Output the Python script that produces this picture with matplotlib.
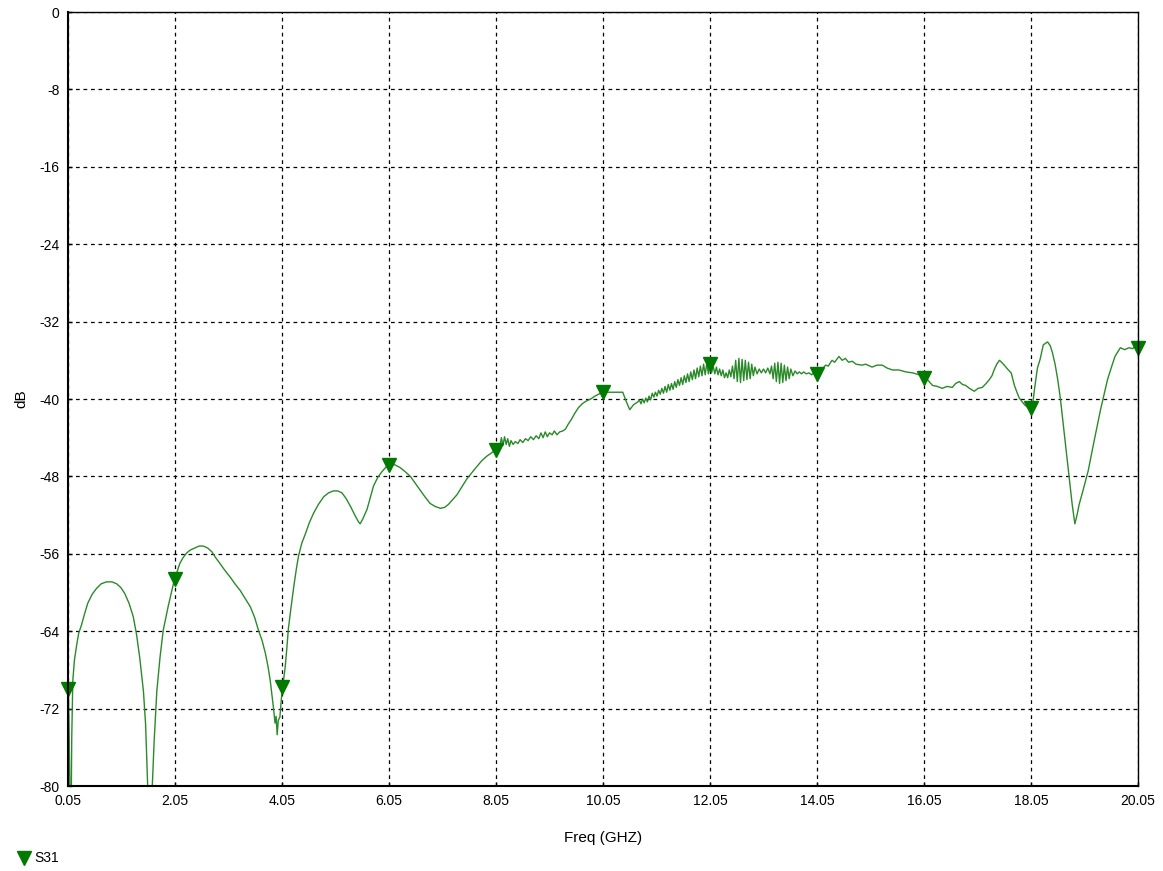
import matplotlib
matplotlib.use("Agg")
import matplotlib.pyplot as plt
from matplotlib.lines import Line2D

plt.rcParams['font.family'] = ['Liberation Sans Narrow', 'Liberation Sans', 'DejaVu Sans']

# S31 trace (GHz, dB)
freq = [
    0.05, 0.06, 0.07, 0.08, 0.09, 0.11, 0.12, 0.14, 0.17, 0.21, 0.25, 0.30, 0.36, 0.42, 0.50,
    0.58, 0.67, 0.77, 0.87, 0.96, 1.04, 1.11, 1.19, 1.27, 1.33, 1.39, 1.46, 1.50, 1.54, 1.56,
    1.61, 1.625, 1.66, 1.71, 1.77, 1.83, 1.92, 2.02, 2.08, 2.14, 2.20, 2.27, 2.34, 2.42, 2.50,
    2.58, 2.66, 2.74, 2.81, 2.89, 2.98, 3.08, 3.17, 3.27, 3.36, 3.46, 3.54, 3.61, 3.68, 3.74,
    3.79, 3.83, 3.86, 3.89, 3.92, 3.94, 3.96, 3.98, 4.01, 4.03, 4.05, 4.08, 4.11, 4.14, 4.17,
    4.22, 4.27, 4.32, 4.36, 4.42, 4.49, 4.56, 4.64, 4.73, 4.83, 4.92, 5.01, 5.09, 5.17, 5.25,
    5.33, 5.42, 5.48, 5.51, 5.56, 5.64, 5.70, 5.76, 5.84, 5.92, 6.00, 6.07, 6.16, 6.26, 6.35,
    6.45, 6.54, 6.63, 6.72, 6.82, 6.91, 7.01, 7.09, 7.16, 7.24, 7.32, 7.41, 7.50, 7.60, 7.69,
    7.78, 7.88, 7.96, 8.05,
    8.09, 8.12, 8.15, 8.18, 8.21, 8.24, 8.27, 8.30, 8.33, 8.37, 8.41, 8.46, 8.50, 8.55, 8.60,
    8.65, 8.70, 8.75, 8.80, 8.85, 8.89, 8.93, 8.97, 9.01, 9.05, 9.10, 9.14, 9.19, 9.24, 9.30,
    9.35, 9.40, 9.46, 9.52, 9.59, 9.66, 9.74, 9.82, 9.90, 9.97, 10.04, 10.12, 10.25, 10.42, 10.48,
    10.55, 10.62,
    10.70, 10.73, 10.76, 10.79, 10.82, 10.85, 10.88, 10.91, 10.94, 10.97, 11.00, 11.03, 11.06, 11.09, 11.12,
    11.15, 11.18, 11.21, 11.24, 11.27, 11.30, 11.33, 11.36, 11.39, 11.42, 11.45, 11.48, 11.51, 11.54, 11.57,
    11.60, 11.63, 11.66, 11.69, 11.72, 11.75, 11.78, 11.81, 11.84, 11.87, 11.90, 11.93, 11.96, 11.99, 12.02,
    12.05, 12.08, 12.11, 12.14, 12.17, 12.20, 12.23, 12.26, 12.29, 12.32, 12.35, 12.38, 12.41, 12.44, 12.47,
    12.50, 12.53, 12.56, 12.59, 12.62, 12.65, 12.68, 12.71, 12.74, 12.77, 12.80, 12.83, 12.86, 12.89, 12.93,
    12.97, 13.01, 13.05, 13.09, 13.13, 13.17, 13.20, 13.23, 13.26, 13.29, 13.32, 13.35, 13.38, 13.41, 13.44,
    13.47, 13.50, 13.53, 13.56, 13.60, 13.64, 13.68, 13.72, 13.76, 13.80, 13.85, 13.90, 13.95, 14.00, 14.05,
    14.10, 14.15, 14.21, 14.26, 14.33, 14.38, 14.46, 14.52, 14.58, 14.64, 14.71, 14.78, 14.89, 14.96, 15.08,
    15.17, 15.27, 15.36, 15.46, 15.58, 15.71, 15.84, 15.96, 16.05, 16.13, 16.21, 16.30, 16.39, 16.48, 16.58,
    16.64, 16.71, 16.77, 16.83, 16.90, 16.99, 17.06, 17.14, 17.21, 17.27, 17.32, 17.36, 17.41, 17.46, 17.50,
    17.55, 17.61, 17.68, 17.74, 17.78, 17.83, 17.93, 18.02, 18.05, 18.08, 18.12, 18.17, 18.22, 18.28, 18.36,
    18.41, 18.45, 18.50, 18.55, 18.60, 18.65, 18.70, 18.75, 18.82, 18.87, 18.91, 18.95, 19.02, 19.12, 19.22,
    19.35, 19.48, 19.56, 19.62, 19.72, 19.80, 19.88, 19.95, 20.02, 20.05,
]
s31_db = [
    -67.5, -70.5, -74.0, -78.0, -82.0, -82.0, -75.0, -69.1, -67.0, -65.5, -64.2, -63.4, -62.2, -61.1, -60.2,
    -59.6, -59.1, -58.9, -58.9, -59.1, -59.5, -60.1, -61.1, -62.5, -64.3, -66.7, -70.2, -73.6, -80.1, -84.0,
    -84.0, -80.1, -75.4, -70.2, -66.7, -63.9, -61.5, -59.1, -58.0, -57.0, -56.4, -55.9, -55.6, -55.4, -55.2,
    -55.2, -55.4, -55.8, -56.4, -57.0, -57.7, -58.4, -59.1, -59.8, -60.6, -61.5, -62.6, -63.9, -65.0, -66.3,
    -67.7, -69.1, -70.5, -71.9, -73.5, -72.8, -74.7, -73.2, -72.9, -71.5, -70.2, -69.0, -67.7, -65.8, -63.7,
    -61.5, -59.4, -57.5, -56.2, -54.9, -53.9, -52.8, -51.8, -50.9, -50.1, -49.7, -49.5, -49.5, -49.7, -50.3,
    -51.1, -52.1, -52.7, -52.9, -52.4, -51.4, -50.2, -49.0, -48.1, -47.5, -47.0, -46.8, -46.8, -47.1, -47.5,
    -48.0, -48.7, -49.4, -50.1, -50.8, -51.1, -51.3, -51.2, -50.9, -50.4, -49.9, -49.1, -48.3, -47.6, -47.0,
    -46.4, -45.9, -45.6, -45.2,
    -44.6, -45.0, -44.0, -44.8, -43.9, -44.7, -44.1, -44.9, -44.3, -44.7, -44.4, -44.6, -44.2, -44.5, -44.1,
    -44.3, -43.9, -44.2, -43.8, -44.1, -43.5, -44.0, -43.4, -43.9, -43.5, -43.7, -43.3, -43.7, -43.4, -43.3,
    -43.1, -42.6, -42.1, -41.5, -40.9, -40.5, -40.2, -40.0, -39.7, -39.5, -39.3, -39.3, -39.3, -39.3, -40.2,
    -41.1, -40.6,
    -40.3, -40.1, -40.5, -40.0, -40.4, -39.9, -40.3, -39.7, -40.1, -39.4, -39.8, -39.3, -39.7, -39.1, -39.5,
    -38.9, -39.4, -38.7, -39.3, -38.5, -39.1, -38.4, -39.0, -38.2, -38.8, -38.0, -38.6, -37.8, -38.5, -37.6,
    -38.3, -37.4, -38.2, -37.2, -38.0, -37.0, -37.9, -36.8, -37.7, -36.6, -37.6, -36.4, -37.5, -36.3, -37.4,
    -36.4, -37.3, -36.6, -37.4, -36.7, -37.5, -36.9, -37.6, -37.0, -37.8, -37.3, -37.8, -37.0, -37.7, -36.6,
    -37.9, -36.0, -38.2, -35.8, -38.3, -35.9, -38.1, -36.0, -38.0, -36.2, -37.9, -36.4, -37.6, -36.7, -37.4,
    -36.9, -37.3, -36.9, -37.3, -36.8, -37.4, -36.6, -37.9, -36.3, -38.2, -36.2, -38.4, -36.3, -38.3, -36.5,
    -38.1, -36.7, -37.9, -36.9, -37.6, -37.1, -37.4, -37.2, -37.4, -37.2, -37.4, -37.3, -37.5, -37.2, -37.4,
    -37.0, -36.9, -36.5, -36.6, -36.0, -36.2, -35.6, -36.0, -35.8, -36.2, -36.1, -36.4, -36.5, -36.4, -36.7,
    -36.5, -36.5, -36.8, -37.0, -37.0, -37.2, -37.3, -37.5, -37.7, -38.1, -38.6, -38.7, -38.9, -38.7, -38.8,
    -38.4, -38.2, -38.5, -38.6, -38.9, -39.2, -38.9, -38.8, -38.4, -38.0, -37.6, -37.0, -36.4, -36.0, -36.2,
    -36.5, -36.9, -37.3, -38.6, -39.2, -39.9, -40.6, -41.0, -41.5, -40.6, -38.8, -36.8, -35.9, -34.4, -34.1,
    -34.5, -35.2, -36.4, -38.0, -40.0, -42.5, -45.0, -47.4, -50.9, -52.9, -52.0, -50.9, -49.5, -47.4, -44.6,
    -41.1, -38.0, -36.6, -35.6, -34.7, -34.9, -34.7, -34.8, -34.4, -34.6,
]

# marker triangles on the trace
marker_freq = [0.05, 2.05, 4.05, 6.05, 8.05, 10.05, 12.05, 14.05, 16.05, 18.05, 20.05]
marker_db = [-70.0, -58.6, -69.8, -46.8, -45.3, -39.3, -36.4, -37.4, -37.8, -40.9, -34.7]

x_ticks = [0.05, 2.05, 4.05, 6.05, 8.05, 10.05, 12.05, 14.05, 16.05, 18.05, 20.05]
y_ticks = [0, -8, -16, -24, -32, -40, -48, -56, -64, -72, -80]

trace_color = '#2a8a2a'
marker_color = '#007a00'

fig = plt.figure(figsize=(11.63, 8.71), dpi=100)
ax = fig.add_axes([68 / 1163, 1 - 786 / 871, (1138 - 68) / 1163, (786 - 12) / 871])

ax.plot(freq, s31_db, color=trace_color, lw=1.0)
ax.plot(marker_freq, marker_db, linestyle='none', marker='v', markersize=10,
        color=marker_color, clip_on=False)

ax.set_xlim(0.05, 20.05)
ax.set_ylim(-80, 0)
ax.set_xticks(x_ticks)
ax.set_xticklabels([f'{t:.2f}' for t in x_ticks])
ax.set_yticks(y_ticks)
ax.set_yticklabels([str(t) for t in y_ticks])
ax.tick_params(direction='in', length=3, width=1, labelsize=10, pad=6, colors='black')
ax.grid(True, color='black', linestyle=(0, (3, 3)), linewidth=0.9)

for side in ['left', 'bottom']:
    ax.spines[side].set_linewidth(1.5)
for side in ['top', 'right']:
    ax.spines[side].set_linewidth(1.0)

ax.set_xlabel('Freq (GHZ)', fontsize=11, labelpad=16)
ax.set_ylabel('dB', fontsize=11, labelpad=8)

handle = Line2D([], [], linestyle='none', marker='v', markersize=10, color=marker_color)
fig.legend([handle], ['S31'], loc='lower left', bbox_to_anchor=(0.001, -0.008),
           frameon=False, fontsize=10, handletextpad=0.0, handlelength=1.5)

fig.savefig('out.png', dpi=100)
